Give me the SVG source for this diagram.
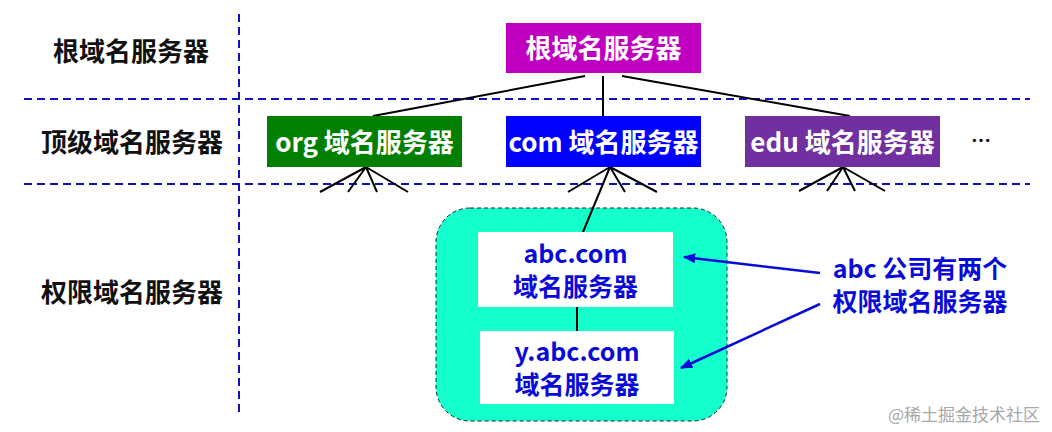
<svg xmlns="http://www.w3.org/2000/svg" width="1052" height="432" viewBox="0 0 1052 432">
<defs>
<style>
.t{font-family:"Noto Sans CJK SC","Microsoft YaHei",sans-serif;font-weight:bold;font-size:26px;text-anchor:middle}
.m{font-size:25px}
.w{fill:#fff}
.k{fill:#111}
.b{fill:#0a0ad8}
.sep{stroke:#1010c0;stroke-width:2;stroke-dasharray:8,5;fill:none}
.ln{stroke:#000;stroke-width:2;fill:none}
.ar{stroke:#0a0ad8;stroke-width:2.5;fill:none;marker-end:url(#ah)}
</style>
<marker id="ah" viewBox="0 0 10 10" refX="9" refY="5" markerWidth="5" markerHeight="5" orient="auto">
<path d="M0,1 L10,5 L0,9 z" fill="#0a0ad8"/>
</marker>
</defs>
<rect width="1052" height="432" fill="#fff"/>
<g id="separators">
<line class="sep" x1="24" y1="99" x2="1030" y2="99"/>
<line class="sep" x1="24" y1="184" x2="1030" y2="184"/>
<line class="sep" x1="239" y1="14" x2="239" y2="416"/>
</g>
<g id="level-labels">
<text class="t k" x="131" y="61">根域名服务器</text>
<text class="t k" x="132" y="152">顶级域名服务器</text>
<text class="t k" x="132" y="302">权限域名服务器</text>
</g>
<g id="abc-zone">
<rect x="436" y="208" width="291" height="213" rx="34" fill="#14ffcc" stroke="#222" stroke-width="1" stroke-dasharray="4,3"/>
</g>
<g id="connectors">
<line class="ln" x1="585" y1="76" x2="373" y2="116"/>
<line class="ln" x1="603" y1="76" x2="603" y2="116"/>
<line class="ln" x1="622" y1="76" x2="850" y2="116"/>
<path class="ln" d="M366,167 L320,192 M366,167 L348,192 M366,167 L377,192 M366,167 L408,192"/>
<path class="ln" d="M610,167 L568,192 M610,167 L625,192 M610,167 L657,192 M610,167 L583,232"/>
<path class="ln" d="M843,167 L799,191 M843,167 L827,191 M843,167 L855,191 M843,167 L885,191"/>
<line class="ln" x1="577" y1="307" x2="577" y2="331"/>
<line class="ar" x1="820" y1="273" x2="684" y2="257"/>
<line class="ar" x1="820" y1="304" x2="681" y2="368"/>
</g>
<g id="root">
<rect x="506" y="23" width="195" height="50" fill="#c000c0"/>
<text class="t w" x="603.5" y="58">根域名服务器</text>
</g>
<g id="org">
<rect x="267" y="116" width="195" height="51" fill="#007f00"/>
<text class="t w" x="364.5" y="152">org 域名服务器</text>
</g>
<g id="com">
<rect x="506" y="116" width="195" height="51" fill="#0000ff"/>
<text class="t w" x="603.5" y="152">com 域名服务器</text>
</g>
<g id="edu">
<rect x="745" y="116" width="195" height="51" fill="#7030a0"/>
<text class="t w" x="842.5" y="152">edu 域名服务器</text>
</g>
<g id="more">
<text class="t k" x="981" y="148" style="font-size:20px">…</text>
</g>
<g id="abc">
<rect x="478" y="232" width="195" height="75" fill="#fff"/>
<text class="t m b"><tspan x="575.5" y="263">abc.com</tspan><tspan x="575.5" y="296">域名服务器</tspan></text>
</g>
<g id="yabc">
<rect x="480" y="331" width="194" height="73" fill="#fff"/>
<text class="t m b"><tspan x="577" y="361">y.abc.com</tspan><tspan x="577" y="394">域名服务器</tspan></text>
</g>
<g id="note">
<text class="t m b"><tspan x="920" y="278">abc 公司有两个</tspan><tspan x="920" y="311">权限域名服务器</tspan></text>
</g>
<text x="964" y="421" style="font-family:'Noto Sans CJK SC',sans-serif;font-size:17px;fill:#a8a8a8;text-anchor:middle">@稀土掘金技术社区</text>
</svg>
